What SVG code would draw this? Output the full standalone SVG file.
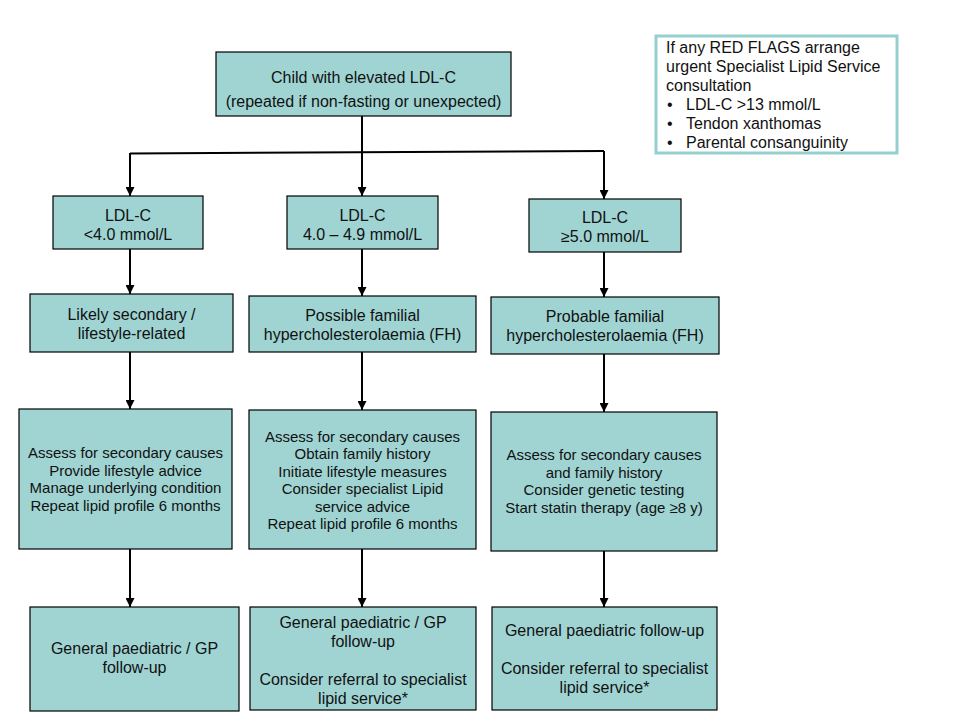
<svg xmlns="http://www.w3.org/2000/svg" width="960" height="720" viewBox="0 0 960 720">
  <defs>
    <marker id="arrow" markerUnits="userSpaceOnUse" markerWidth="9" markerHeight="9" refX="9" refY="4.5" orient="auto">
      <path d="M0,0 L9,4.5 L0,9 Z" fill="#000"/>
    </marker>
    <style>
      .box { fill: #9fd4d3; stroke: #000; stroke-width: 1.2; }
      .flag { fill: #ffffff; stroke: #96cfcf; stroke-width: 3; }
      .t16 { font-family: "Liberation Sans", Arial, sans-serif; font-size: 16px; fill: #111; text-anchor: middle; }
      .t15 { font-family: "Liberation Sans", Arial, sans-serif; font-size: 15px; fill: #111; text-anchor: middle; }
      .tl { font-family: "Liberation Sans", Arial, sans-serif; font-size: 16px; fill: #111; }
      .conn { stroke: #000; stroke-width: 2; fill: none; }
    </style>
  </defs>
  <rect width="960" height="720" fill="#ffffff"/>

  <g id="connectors">
    <line class="conn" x1="362" y1="116" x2="362" y2="196" marker-end="url(#arrow)"/>
    <line class="conn" x1="130" y1="153.5" x2="604" y2="151"/>
    <line class="conn" x1="130" y1="153" x2="130" y2="196" marker-end="url(#arrow)"/>
    <line class="conn" x1="604" y1="151" x2="604" y2="199" marker-end="url(#arrow)"/>
    <line class="conn" x1="130" y1="249" x2="130" y2="294" marker-end="url(#arrow)"/>
    <line class="conn" x1="362" y1="249" x2="362" y2="296" marker-end="url(#arrow)"/>
    <line class="conn" x1="604" y1="252" x2="604" y2="297" marker-end="url(#arrow)"/>
    <line class="conn" x1="130" y1="352" x2="130" y2="409" marker-end="url(#arrow)"/>
    <line class="conn" x1="362" y1="352" x2="362" y2="410" marker-end="url(#arrow)"/>
    <line class="conn" x1="604" y1="354" x2="604" y2="412" marker-end="url(#arrow)"/>
    <line class="conn" x1="130" y1="549" x2="130" y2="607" marker-end="url(#arrow)"/>
    <line class="conn" x1="362" y1="549" x2="362" y2="607" marker-end="url(#arrow)"/>
    <line class="conn" x1="604" y1="551" x2="604" y2="607" marker-end="url(#arrow)"/>
  </g>

  <g id="start">
    <rect class="box" x="216" y="52" width="295" height="64"/>
    <text class="t16" x="363.5" y="83">Child with elevated LDL-C</text>
    <text class="t16" x="363.5" y="107">(repeated if non-fasting or unexpected)</text>
  </g>

  <g id="redflags">
    <rect class="flag" x="656" y="36" width="241" height="117"/>
    <text class="tl" x="666" y="53">If any RED FLAGS arrange</text>
    <text class="tl" x="666" y="72">urgent Specialist Lipid Service</text>
    <text class="tl" x="666" y="91">consultation</text>
    <text class="tl" x="667" y="110">•</text>
    <text class="tl" x="686" y="110">LDL-C &gt;13 mmol/L</text>
    <text class="tl" x="667" y="129">•</text>
    <text class="tl" x="686" y="129">Tendon xanthomas</text>
    <text class="tl" x="667" y="148">•</text>
    <text class="tl" x="686" y="148">Parental consanguinity</text>
  </g>

  <g id="ldl-low">
    <rect class="box" x="53" y="196" width="150" height="53"/>
    <text class="t16" x="128" y="221">LDL-C</text>
    <text class="t16" x="128" y="240">&lt;4.0 mmol/L</text>
  </g>
  <g id="ldl-mid">
    <rect class="box" x="287" y="196" width="151" height="53"/>
    <text class="t16" x="362.5" y="221">LDL-C</text>
    <text class="t16" x="362.5" y="240">4.0 – 4.9 mmol/L</text>
  </g>
  <g id="ldl-high">
    <rect class="box" x="529" y="199" width="152" height="53"/>
    <text class="t16" x="605" y="223">LDL-C</text>
    <text class="t16" x="605" y="242">≥5.0 mmol/L</text>
  </g>

  <g id="dx-secondary">
    <rect class="box" x="30" y="294" width="203" height="58"/>
    <text class="t16" x="131.5" y="320">Likely secondary /</text>
    <text class="t16" x="131.5" y="339">lifestyle-related</text>
  </g>
  <g id="dx-possible">
    <rect class="box" x="249" y="296" width="227" height="56"/>
    <text class="t16" x="362.5" y="321">Possible familial</text>
    <text class="t16" x="362.5" y="340">hypercholesterolaemia (FH)</text>
  </g>
  <g id="dx-probable">
    <rect class="box" x="491" y="297" width="228" height="57"/>
    <text class="t16" x="605" y="322">Probable familial</text>
    <text class="t16" x="605" y="341">hypercholesterolaemia (FH)</text>
  </g>

  <g id="mgmt-secondary">
    <rect class="box" x="19" y="409" width="213" height="140"/>
    <text class="t15" x="125.5" y="458">Assess for secondary causes</text>
    <text class="t15" x="125.5" y="475.5">Provide lifestyle advice</text>
    <text class="t15" x="125.5" y="493">Manage underlying condition</text>
    <text class="t15" x="125.5" y="510.5">Repeat lipid profile 6 months</text>
  </g>
  <g id="mgmt-possible">
    <rect class="box" x="249" y="410" width="227" height="139"/>
    <text class="t15" x="362.5" y="442">Assess for secondary causes</text>
    <text class="t15" x="362.5" y="459">Obtain family history</text>
    <text class="t15" x="362.5" y="477">Initiate lifestyle measures</text>
    <text class="t15" x="362.5" y="494">Consider specialist Lipid</text>
    <text class="t15" x="362.5" y="512">service advice</text>
    <text class="t15" x="362.5" y="529">Repeat lipid profile 6 months</text>
  </g>
  <g id="mgmt-probable">
    <rect class="box" x="491" y="412" width="226" height="139"/>
    <text class="t15" x="604" y="460">Assess for secondary causes</text>
    <text class="t15" x="604" y="477.5">and family history</text>
    <text class="t15" x="604" y="495">Consider genetic testing</text>
    <text class="t15" x="604" y="512.5">Start statin therapy (age ≥8 y)</text>
  </g>

  <g id="fu-secondary">
    <rect class="box" x="30" y="607" width="209" height="104"/>
    <text class="t16" x="134.5" y="654">General paediatric / GP</text>
    <text class="t16" x="134.5" y="673">follow-up</text>
  </g>
  <g id="fu-possible">
    <rect class="box" x="250" y="607" width="226" height="103"/>
    <text class="t16" x="363" y="627.5">General paediatric / GP</text>
    <text class="t16" x="363" y="646.5">follow-up</text>
    <text class="t16" x="363" y="684.5">Consider referral to specialist</text>
    <text class="t16" x="363" y="703.5">lipid service*</text>
  </g>
  <g id="fu-probable">
    <rect class="box" x="492" y="607" width="225" height="103"/>
    <text class="t16" x="604.5" y="635.5">General paediatric follow-up</text>
    <text class="t16" x="604.5" y="673.5">Consider referral to specialist</text>
    <text class="t16" x="604.5" y="692.5">lipid service*</text>
  </g>
</svg>
